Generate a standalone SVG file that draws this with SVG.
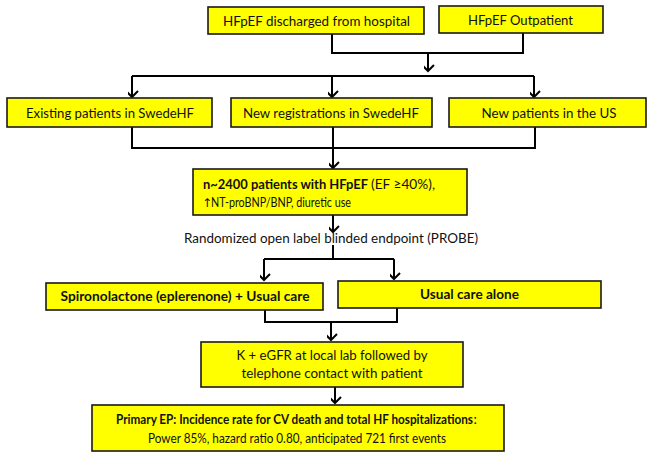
<svg xmlns="http://www.w3.org/2000/svg" width="654" height="457" viewBox="0 0 654 457">
<style>
.box{fill:#ffff00;stroke:#1a1a1a;stroke-width:1.6}
.t{font-family:Lato,"Liberation Sans",sans-serif;font-size:13.5px;fill:#111}
.m{text-anchor:middle}
.b{font-weight:bold}
.c{fill:none;stroke:#000;stroke-width:2}
.sym{font-family:"DejaVu Sans",sans-serif;font-size:12px;fill:#111}
</style>
<defs>
<marker id="ah" markerUnits="userSpaceOnUse" markerWidth="14" markerHeight="14" viewBox="-7 -10 14 14" refX="0" refY="0" orient="auto-start-reverse">
<path d="M-6,-6 L0,0 L6,-6" fill="none" stroke="#000" stroke-width="2" transform="rotate(-90)"/>
</marker>
</defs>
<rect width="654" height="457" fill="#fff"/>
<g id="connectors">
<path class="c" d="M332,34 V53 H523 V33"/>
<path class="c" d="M428,53 V71" marker-end="url(#ah)"/>
<path class="c" d="M132,76 H534"/>
<path class="c" d="M132,76 V97" marker-end="url(#ah)"/>
<path class="c" d="M332,76 V97" marker-end="url(#ah)"/>
<path class="c" d="M534,76 V97" marker-end="url(#ah)"/>
<path class="c" d="M132,127 V148 H535 V127"/>
<path class="c" d="M333,127 V148"/>
<path class="c" d="M333,148 V168" marker-end="url(#ah)"/>
<path class="c" d="M333,215 V232" marker-end="url(#ah)"/>
<path class="c" d="M333,245 V259"/>
<path class="c" d="M264,259 H394"/>
<path class="c" d="M264,259 V280" marker-end="url(#ah)"/>
<path class="c" d="M394,259 V279" marker-end="url(#ah)"/>
<path class="c" d="M265,309 V322 H397 V308"/>
<path class="c" d="M331,322 V340" marker-end="url(#ah)"/>
<path class="c" d="M335,387 V403" marker-end="url(#ah)"/>
</g>
<g id="n_hospital">
<rect class="box" x="208" y="7" width="216" height="27"/>
<text class="t m" x="316.5" y="26" textLength="187" lengthAdjust="spacingAndGlyphs">HFpEF discharged from hospital</text>
</g>
<g id="n_outpatient">
<rect class="box" x="439" y="6" width="164" height="27"/>
<text class="t m" x="520.5" y="25" textLength="105" lengthAdjust="spacingAndGlyphs">HFpEF Outpatient</text>
</g>
<g id="n_existing">
<rect class="box" x="7" y="98" width="205" height="29"/>
<text class="t m" x="110" y="118" textLength="168" lengthAdjust="spacingAndGlyphs">Existing patients in SwedeHF</text>
</g>
<g id="n_newreg">
<rect class="box" x="231" y="98" width="201" height="29"/>
<text class="t m" x="331" y="118" textLength="176" lengthAdjust="spacingAndGlyphs">New registrations in SwedeHF</text>
</g>
<g id="n_us">
<rect class="box" x="449" y="98" width="197" height="29"/>
<text class="t m" x="549" y="118" textLength="135" lengthAdjust="spacingAndGlyphs">New patients in the US</text>
</g>
<g id="n_patients">
<rect class="box" x="193" y="169" width="274" height="46"/>
<text class="t b" x="203" y="189" textLength="165" lengthAdjust="spacingAndGlyphs">n~2400 patients with HFpEF</text>
<text class="t" x="371" y="189" textLength="64" lengthAdjust="spacingAndGlyphs">(EF ≥40%),</text>
<text class="sym" x="202" y="207">↑</text>
<text class="t" x="211" y="207" textLength="140" lengthAdjust="spacingAndGlyphs">NT-proBNP/BNP, diuretic use</text>
</g>
<g id="n_random">
<text class="t m" x="331" y="243" textLength="294" lengthAdjust="spacingAndGlyphs">Randomized open label blinded endpoint (PROBE)</text>
</g>
<g id="n_spiro">
<rect class="box" x="46" y="283" width="277" height="27"/>
<text class="t m b" x="185" y="301" textLength="249" lengthAdjust="spacingAndGlyphs">Spironolactone (eplerenone) + Usual care</text>
</g>
<g id="n_usual">
<rect class="box" x="338" y="281" width="263" height="27"/>
<text class="t m b" x="469.5" y="299" textLength="99" lengthAdjust="spacingAndGlyphs">Usual care alone</text>
</g>
<g id="n_lab">
<rect class="box" x="201" y="342" width="262" height="45"/>
<text class="t m" x="332" y="360" textLength="191" lengthAdjust="spacingAndGlyphs">K + eGFR at local lab followed by</text>
<text class="t m" x="332" y="378" textLength="181" lengthAdjust="spacingAndGlyphs">telephone contact with patient</text>
</g>
<g id="n_primary">
<rect class="box" x="92" y="405" width="412" height="46"/>
<text class="t b" x="116" y="424" textLength="357" lengthAdjust="spacingAndGlyphs">Primary EP: Incidence rate for CV death and total HF hospitalizations</text>
<text class="t" x="473.5" y="424">:</text>
<text class="t m" x="297" y="443" textLength="298" lengthAdjust="spacingAndGlyphs">Power 85%, hazard ratio 0.80, anticipated 721 first events</text>
</g>
</svg>
